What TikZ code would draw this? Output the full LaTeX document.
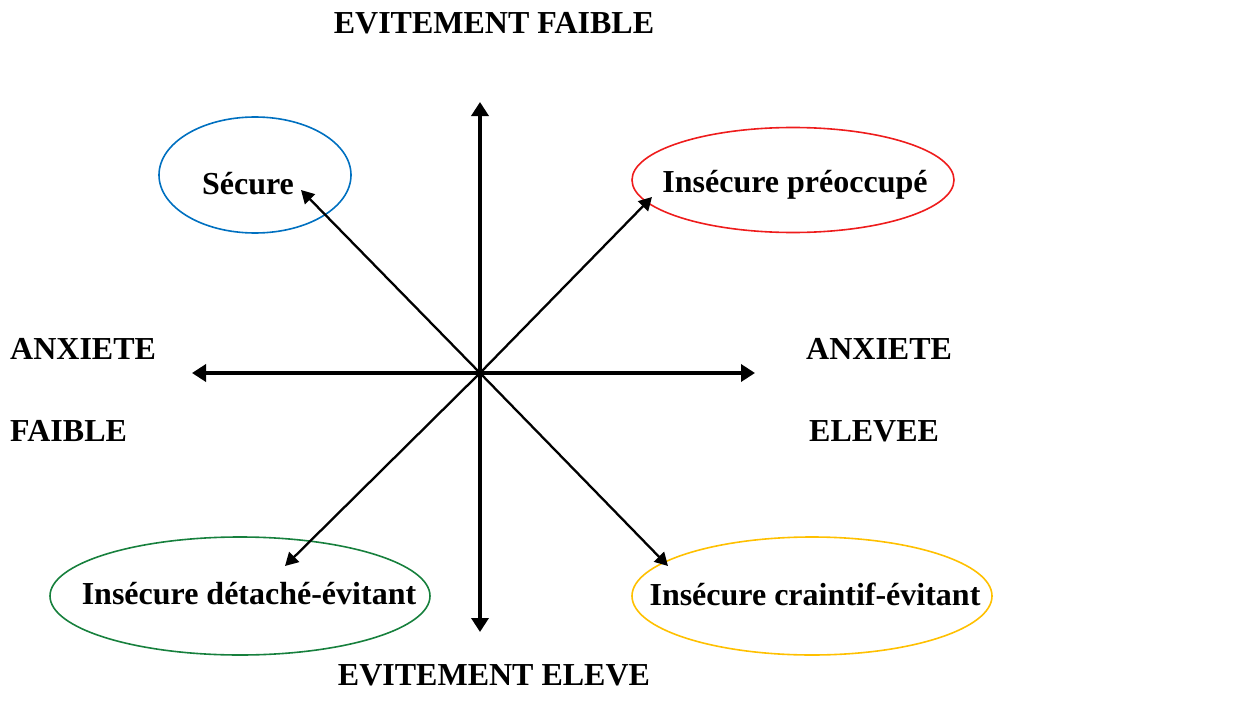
\documentclass[tikz,border=0pt]{standalone}
\usepackage{fontspec}
\setmainfont{Liberation Serif}
\usepackage{xcolor}
\usepackage{tikz}
\usetikzlibrary{positioning}
\usetikzlibrary{arrows.meta,shapes.geometric}
\definecolor{bleu}{HTML}{0070C0}
\definecolor{rouge}{HTML}{EE1C1C}
\definecolor{vert}{HTML}{17803D}
\definecolor{jaune}{HTML}{FFC000}
\tikzset{
  lab/.style = {inner sep=0pt, font=\fontsize{32}{38}\selectfont\bfseries},
  axe/.style = {line width=3.6pt, {Triangle[length=14pt,width=17pt]}-{Triangle[length=14pt,width=17pt]}},
  diag/.style = {line width=2.3pt, -{Triangle[length=13pt,width=14pt]}},% fleche vers un etat
  etat/.style = {ellipse, line width=1.6pt, inner sep=0pt}% ellipse d'un etat
}
\begin{document}
\begin{tikzpicture}[x=1pt,y=-1pt]
\useasboundingbox (0,0) rectangle (1240,709);
\coordinate (c) at (480,373);
% axes
\coordinate (haut) at (480,102);
\coordinate (bas) at (480,632);
\coordinate (gauche) at (192,373);
\coordinate (droite) at (755,373);
\draw[axe] (haut) -- (bas);
\draw[axe] (gauche) -- (droite);
% titres des axes
\node[lab] (evf) at (494,23) {EVITEMENT FAIBLE};
\node[lab] (eve) at (494,675) {EVITEMENT ELEVE};
\node[lab, anchor=west] (anxf) at (10,349) {ANXIETE};
\node[lab, anchor=west] (faible) at (10,431) {FAIBLE};
\node[lab, anchor=west] (anxe) at (806,349) {ANXIETE};
\node[lab, anchor=west] (elevee) at (809,431) {ELEVEE};
% etats
\node[etat, draw=bleu, minimum width=192, minimum height=116] (esecure) at (255,175) {};
\node[etat, draw=rouge, minimum width=322, minimum height=105] (epreoc) at (793,180) {};
\node[etat, draw=vert, minimum width=380, minimum height=118] (edetache) at (240,596) {};
\node[etat, draw=jaune, minimum width=360, minimum height=118] (ecraintif) at (812,596) {};
\node[lab] (secure) at (248,184) {Sécure};
\node[lab] (preoc) at (795,185) {Insécure préoccupé};
\node[lab] (detache) at (249,594) {Insécure détaché-évitant};
\node[lab] (craintif) at (815,594) {Insécure craintif-évitant};
% fleches
\coordinate (psecure) at (301,190);
\coordinate (ppreoc) at (652,197);
\coordinate (pdetache) at (285,566);
\coordinate (pcraintif) at (668,566);
\draw[diag] (c) -- (psecure);
\draw[diag] (c) -- (ppreoc);
\draw[diag] (c) -- (pdetache);
\draw[diag] (c) -- (pcraintif);
\end{tikzpicture}
\end{document}
